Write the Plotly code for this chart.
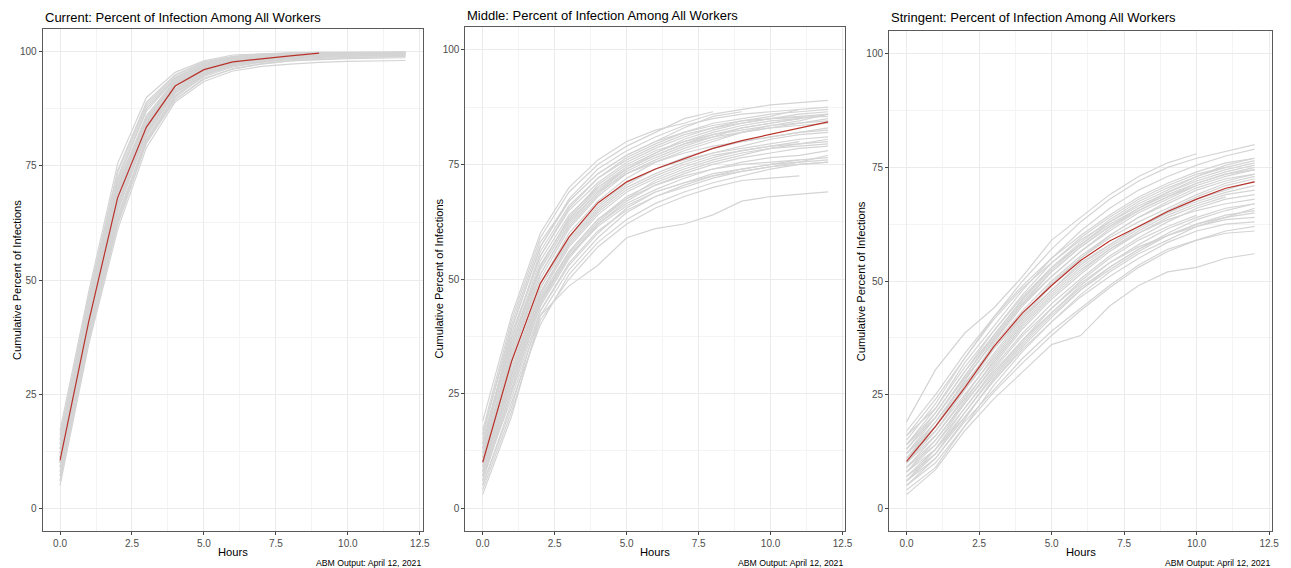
import plotly.graph_objects as go

hours = [0, 1, 2, 3, 4, 5, 6, 7, 8, 9, 10, 11, 12]

panel_titles = [
    "Current: Percent of Infection Among All Workers",
    "Middle: Percent of Infection Among All Workers",
    "Stringent: Percent of Infection Among All Workers",
]
x_title = "Hours"
y_title = "Cumulative Percent of Infections"
caption = "ABM Output: April 12, 2021"
x_ticks = [0, 2.5, 5, 7.5, 10, 12.5]
x_tick_labels = ["0.0", "2.5", "5.0", "7.5", "10.0", "12.5"]
y_ticks = [0, 25, 50, 75, 100]
y_tick_labels = ["0", "25", "50", "75", "100"]

# ---- Current scenario: individual simulation runs ----
current_runs = [
    [10, 41, 68, 84, 92.5, 96, 97.8, 98.6, 99.1, 99.4, 99.6, 99.7, 99.8],
    [5, 36, 61, 79, 89, 93.5, 95.8, 96.8, 97.3, 97.7, 97.9, 98.0, 98.1],
    [17, 47.5, 75.5, 90, 95.5, 98, 99.3, 99.6, 99.8, 99.9, 99.9, 99.9, 99.9],
    [8, 38, 64, 81, 90.5, 95, 97, 98, 98.5, 98.9, 99.1, 99.2, 99.3],
    [13, 44, 71, 86, 93.5, 96.8, 98.2, 98.9, 99.3, 99.5, 99.6, 99.7, 99.8],
    [11, 42, 67, 82, 91, 95.4, 97.4, 98.3, 98.8, 99.1, 99.3, 99.4, 99.5],
    [7, 37, 62, 80, 89.5, 94, 96.3, 97.4, 98, 98.3, 98.5, 98.6, 98.7],
    [15, 46, 73.5, 88.5, 94.8, 97.6, 98.9, 99.4, 99.6, 99.7, 99.8, 99.9, 99.9],
    [9, 40, 66, 83, 92, 96, 97.8, 98.6, 99.1, 99.4, 99.5, 99.6, 99.7],
    [12, 43, 69, 85, 93, 96.5, 98.1, 98.9, 99.3, 99.5, 99.7, 99.8, 99.8],
    [6, 37, 63, 81.5, 91, 95, 96.9, 97.8, 98.4, 98.8, 99, 99.1, 99.2],
    [14, 45, 72, 87, 94, 97.2, 98.6, 99.2, 99.5, 99.7, 99.8, 99.8, 99.9],
    [10, 40, 65, 82, 91.5, 95.5, 97.3, 98.2, 98.8, 99.1, 99.3, 99.4, 99.5],
    [16, 46.5, 74, 89, 95, 97.8, 99, 99.5, 99.7, 99.8, 99.9, 99.9, 100],
    [8, 39, 67, 84, 92.5, 96.2, 97.9, 98.7, 99.2, 99.5, 99.6, 99.7, 99.8],
    [11, 41, 68, 83.5, 92, 95.8, 97.6, 98.4, 98.9, 99.2, 99.4, 99.5, 99.6],
    [12, 42.5, 70, 84.5, 92.8, 96.3, 97.9, 98.7, 99.1, 99.4, 99.5, 99.6, 99.7],
    [9, 39, 64, 80.5, 89.5, 94.2, 96.2, 97.3, 98, 98.4, 98.7, 98.9, 99],
    [13, 44, 70.5, 85.5, 93.2, 96.8, 98.3, 99, 99.4, 99.6, 99.7, 99.8, 99.8],
    [7, 38, 65, 82.5, 91.5, 95.7, 97.7, 98.5, 99, 99.3, 99.5, 99.6, 99.7],
    [10, 41.5, 69, 85, 93, 96.4, 98, 98.8, 99.3, 99.5, 99.6, 99.7, 99.7],
    [14, 43.5, 71.5, 87.5, 94.2, 97.1, 98.5, 99.1, 99.4, 99.6, 99.7, 99.8, 99.9],
    [11, 40.5, 66.5, 83, 91.8, 95.9, 97.6, 98.5, 99, 99.3, 99.4, 99.5, 99.6],
    [9, 38.5, 63, 80, 90, 94.8, 97.1, 98.1, 98.7, 99, 99.2, 99.3, 99.4],
    [12, 43, 70, 86, 93.8, 97, 98.4, 99.1, 99.5, 99.7, 99.8, 99.8, 99.9],
    [10, 42, 68.5, 84.5, 92.6, 96.1, 97.9, 98.8, 99.3, 99.6, 99.7, 99.8, 99.8],
    [6, 36.5, 62.5, 80.5, 90.2, 94.6, 96.7, 97.7, 98.3, 98.6, 98.8, 98.9, 99],
    [15, 45.5, 72.5, 88, 94.4, 97.4, 98.8, 99.3, 99.6, 99.7, 99.8, 99.9, 99.9],
    [11, 39.5, 65.5, 82.5, 91.2, 95.2, 97.2, 98.2, 98.8, 99.2, 99.4, 99.5, 99.6],
    [13, 42, 69.5, 85.5, 93.4, 96.7, 98.2, 98.9, 99.3, 99.6, 99.7, 99.8, 99.8],
]
current_mean = [10.5, 41, 68, 83.5, 92.5, 96.1, 97.8, 98.5, 99.1, 99.7]

# ---- Middle scenario ----
middle_runs = [
    [3, 20, 42, 48.5, 53, 59, 61, 62, 64, 67, 68, 68.5, 69],
    [19, 42, 60, 70, 76, 80, 82.5, 84, 86, 87, 88, 88.5, 89],
    [10, 32, 49, 60, 67, 72, 75.5, 78, 80, 82, 83.5, 84.5, 86],
    [6, 25, 43, 53, 60, 65.5, 69, 71, 73, 74, 75, 75.5, 76],
    [14, 38, 55, 65, 71, 75.5, 78.5, 81, 83, 84.5, 85.5, 87],
    [8, 28, 46, 56, 63, 68, 71, 73.5, 75.5, 77, 78.5, 79.5, 80.5],
    [12, 35, 53, 63, 70, 74.5, 77.5, 80, 82, 83.5, 84.5, 85],
    [5, 23, 40, 51, 58, 63, 66.5, 69, 71, 72.5, 74, 75, 75.5],
    [16, 40, 58, 67, 73, 77, 80, 83, 85.5, 86.5],
    [9, 30, 47, 58, 65, 70, 73, 75.5, 77.5, 79, 80.5, 81.5, 82],
    [11, 33, 50, 61, 68, 73, 76, 78.5, 80.5, 82, 83, 84, 85],
    [7, 27, 45, 55, 61.5, 66, 69, 71, 72.5, 73.5, 74.5, 75.5, 77],
    [13, 36, 54, 64, 70, 74, 77, 79.5, 81, 82, 83, 83.5, 84],
    [4, 21, 41, 50, 57, 62, 65.5, 68, 70, 71.5, 72, 72.5],
    [17, 41, 59, 69, 75, 79, 82, 85, 86.5],
    [10, 31, 48, 58.5, 65.5, 70.5, 74, 76.5, 78.5, 80, 81, 82, 83],
    [8, 29, 46.5, 57, 64, 69, 72, 74.5, 76.5, 78, 79, 80],
    [12, 34, 51, 61.5, 68.5, 73.5, 76.5, 79, 81, 83, 84, 85, 86],
    [6, 26, 44, 54.5, 62, 67, 70.5, 73, 75, 76.5, 77.5, 78.5, 79],
    [15, 37, 56, 66, 72, 76.5, 79.5, 82, 84, 85, 86, 86.5, 87],
    [9, 30, 48, 59, 66, 71, 74, 76, 77.5, 78.5, 79.5, 80.5, 81],
    [11, 33, 51, 62, 69, 73, 75.5, 77.5, 79, 80, 81, 82, 82.5],
    [7, 24, 42, 52, 59, 64.5, 68, 70.5, 72.5, 74, 75, 76, 76.5],
    [13, 39, 57, 67.5, 74, 78, 81, 83.5, 85, 86, 86.5, 87, 87.5],
    [10, 29, 47, 57.5, 64.5, 69.5, 72.5, 75, 77, 78, 79, 79.5, 80],
    [5, 22, 43, 53.5, 60.5, 65, 68, 70, 72, 73.5, 74.5, 75, 75.5],
    [14, 36, 53, 63, 69.5, 74, 77, 79.5, 81.5, 83, 84, 85],
    [8, 27, 45, 56, 63, 67.5, 70.5, 72.5, 74, 75, 75.5, 76],
    [12, 34, 52, 62.5, 69, 74, 77.5, 80.5, 82.5, 84, 85, 86, 86.5],
    [16, 39, 57, 67, 73, 77, 80, 82, 83.5, 84.5, 85, 85.3, 85.5],
    [9, 28, 45.5, 55.5, 62.5, 67.5, 71.5, 74, 76, 77.5, 78.5, 79, 79.5],
    [13, 37, 55, 65.5, 72, 76, 79, 81.5, 83, 84, 85, 85.5, 86],
    [7, 26, 44.5, 55, 62, 66.5, 69.5, 72, 74, 75.5, 76.5, 77, 78],
    [11, 35, 52.5, 63.5, 70.5, 75, 78, 80, 81.5, 82.5, 83.5, 84, 84.5],
]
middle_mean = [10, 32, 49, 59.2, 66.6, 71.2, 74, 76.3, 78.5, 80.2, 81.6, 83, 84.3]

# ---- Stringent scenario ----
stringent_runs = [
    [19, 30.5, 38.5, 44, 51, 59, 64, 69, 73, 76, 78],
    [3, 8.5, 17, 24, 30, 36, 38, 44.5, 49, 52, 53, 55, 56],
    [10, 17, 26, 35, 42, 48, 54, 58, 62, 65, 68, 70, 72],
    [14, 21, 30, 38, 46, 53, 58, 63, 67, 70, 73, 75.5, 77],
    [6, 12, 20, 28, 35, 41, 47, 52, 56, 59, 62, 64, 66],
    [16, 22, 32, 40, 48, 55, 61, 66, 70, 73, 75.5, 77.5, 79],
    [8, 14, 22, 30, 37, 43, 48.5, 53, 57, 60, 62, 63.5, 64],
    [12, 19, 28, 37, 45, 51, 56.5, 61, 65, 68, 71, 73, 74.5],
    [5, 11, 19, 26, 33, 39, 44, 49, 53.5, 57, 59, 60.5, 61],
    [11, 18, 27, 36, 43.5, 50, 55.5, 60, 64, 67, 70, 72, 73.5],
    [9, 16, 24, 32, 40, 46.5, 52, 57, 61, 64.5, 67, 69, 70],
    [15, 23, 33, 42, 50, 57, 63, 68, 72, 75, 77, 78.5, 80],
    [7, 13, 21, 29, 36.5, 43, 49, 54, 58, 61.5, 64, 66, 67],
    [13, 20, 29, 38, 46, 52.5, 58, 62.5, 66, 69, 71.5, 73.5, 75],
    [4, 9, 18, 25.5, 32, 38, 43.5, 48.5, 53, 56.5, 59, 61, 62],
    [10, 18, 28, 37, 45, 52, 57.5, 62, 66, 69.5, 72.5, 74.5, 76],
    [17, 25, 34, 42, 49, 55, 60, 64.5, 68.5, 71.5, 74, 76, 77],
    [8, 15, 23, 31, 38.5, 45, 50.5, 55.5, 59.5, 63, 66, 68, 69],
    [12, 20, 29, 37.5, 45.5, 52, 57.5, 62, 65.5, 68.5, 71],
    [6, 13, 22, 30.5, 38, 44, 50, 55, 59, 62, 64.5],
    [11, 17, 25, 33, 41, 47.5, 53, 57.5, 61.5, 65, 67.5, 69.5, 71],
    [14, 22, 31, 39, 47, 54, 59.5, 64, 68, 71, 73.5, 75],
    [9, 14, 23, 31.5, 39.5, 46, 51.5, 56.5, 60.5, 64, 66.5, 68.5],
    [7, 12, 21, 29.5, 37, 44, 49.5, 54, 57.5, 60, 62.5, 64.5, 65.5],
    [13, 21, 30, 39, 46.5, 53, 58.5, 63.5, 67.5, 70.5, 73, 75, 76.5],
    [10, 16, 24.5, 33.5, 41.5, 48, 53.5, 58, 62, 65.5, 68.5, 71, 72.5],
    [5, 10, 18, 27, 34.5, 41, 46.5, 51, 55, 58.5, 61, 62.5, 63],
    [16, 24, 33, 41.5, 48.5, 54, 59, 63, 66.5, 69.5, 72, 74, 75.5],
    [12, 18, 26, 34, 42, 49, 55, 60, 64, 67.5, 70.5, 72.5, 73.5],
    [8, 13, 20, 28, 35.5, 42, 48, 53, 57, 60.5, 63.5, 65.5, 67],
    [11, 19, 27.5, 35, 42.5, 49.5, 55, 59.5, 63, 66, 69, 71.5, 73],
    [9, 15, 23.5, 32.5, 40.5, 47, 52.5, 57, 60.5, 63.5, 65.5, 67, 68],
    [14, 20, 28.5, 36.5, 44.5, 51, 56.5, 61.5, 65.5, 68.5, 71.5, 73.5, 74.5],
    [6, 11, 19.5, 28.5, 36, 42.5, 48, 52.5, 56.5, 60, 62.5, 64, 65],
]
stringent_mean = [10.3, 18, 26.5, 35.5, 43, 49, 54.5, 58.8, 62, 65.3, 68, 70.4, 71.8]

# ---------------- layout geometry (pixels) ----------------
W, H = 1291, 568
panels = [
    dict(runs=current_runs, mean=current_mean, x0=43, x1=425, top=29, bottom=531),
    dict(runs=middle_runs, mean=middle_mean, x0=468, x1=850, top=27, bottom=531),
    dict(runs=stringent_runs, mean=stringent_mean, x0=894, x1=1279, top=31, bottom=531),
]

GRAY = "rgb(212,212,212)"
RED = "#B8332C"
FONT = "Liberation Sans, Arial, sans-serif"

fig = go.Figure()
annotations = []
layout = dict(
    width=W, height=H,
    margin=dict(l=0, r=0, t=0, b=0),
    paper_bgcolor="white", plot_bgcolor="white",
    showlegend=False,
    font=dict(family=FONT, color="black"),
)

for i, p in enumerate(panels):
    suffix = "" if i == 0 else str(i + 1)
    xa, ya = "x" + suffix, "y" + suffix
    for run in p["runs"]:
        fig.add_trace(go.Scatter(
            x=hours[:len(run)], y=run, mode="lines",
            line=dict(color=GRAY, width=1.2), xaxis=xa, yaxis=ya,
            hoverinfo="skip"))
    fig.add_trace(go.Scatter(
        x=hours[:len(p["mean"])], y=p["mean"], mode="lines",
        line=dict(color=RED, width=1.2), xaxis=xa, yaxis=ya,
        hoverinfo="skip"))

    common = dict(
        showline=True, linecolor="#5a5a5a", linewidth=1.2, mirror=True,
        ticks="outside", ticklen=3, tickwidth=1, tickcolor="#444444",
        tickfont=dict(family=FONT, size=10, color="#4D4D4D"),
        showgrid=True, gridcolor="#EBEBEB", gridwidth=1,
        zeroline=False,
    )
    layout["xaxis" + suffix] = dict(
        common,
        domain=[p["x0"] / W, p["x1"] / W],
        anchor=ya, range=[-0.6, 12.6],
        tickmode="array", tickvals=x_ticks, ticktext=x_tick_labels,
        minor=dict(tickmode="array", tickvals=[1.25, 3.75, 6.25, 8.75, 11.25],
                   showgrid=True, gridcolor="#F4F4F4", gridwidth=0.6, ticks=""),
    )
    layout["yaxis" + suffix] = dict(
        common,
        domain=[1 - p["bottom"] / H, 1 - p["top"] / H],
        anchor=xa, range=[-5, 105],
        tickmode="array", tickvals=y_ticks, ticktext=y_tick_labels,
        minor=dict(tickmode="array", tickvals=[12.5, 37.5, 62.5, 87.5],
                   showgrid=True, gridcolor="#F4F4F4", gridwidth=0.6, ticks=""),
    )

    title_y = [17, 15, 17][i]
    annotations.append(dict(
        text=panel_titles[i], xref="paper", yref="paper",
        x=p["x0"] / W, y=1 - title_y / H, xanchor="left", yanchor="middle",
        showarrow=False, font=dict(family=FONT, size=13, color="black")))
    cx = (p["x0"] + p["x1"]) / 2
    annotations.append(dict(
        text=x_title, xref="paper", yref="paper",
        x=cx / W, y=1 - 552 / H, xanchor="center", yanchor="middle",
        showarrow=False, font=dict(family=FONT, size=11.2, color="black")))
    ytx = [17, 441, 866][i]
    cy = (p["top"] + p["bottom"]) / 2
    annotations.append(dict(
        text=y_title, xref="paper", yref="paper", textangle=-90,
        x=ytx / W, y=1 - cy / H, xanchor="center", yanchor="middle",
        showarrow=False, font=dict(family=FONT, size=11.1, color="black")))
    annotations.append(dict(
        text=caption, xref="paper", yref="paper",
        x=p["x1"] / W, y=1 - 563 / H, xanchor="right", yanchor="middle",
        showarrow=False, font=dict(family=FONT, size=8.7, color="black")))

layout["annotations"] = annotations
fig.update_layout(**layout)
fig.write_html(
    "out.html",
    config={"displayModeBar": False},
    post_script="document.body.style.margin='0';document.body.style.padding='0';document.body.style.overflow='hidden';",
)
